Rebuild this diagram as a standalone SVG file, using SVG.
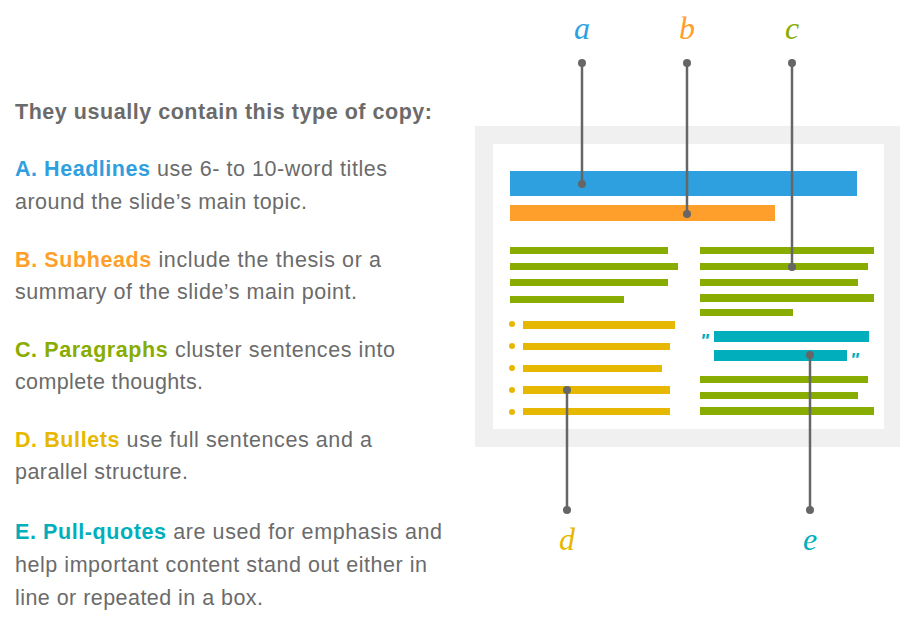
<svg xmlns="http://www.w3.org/2000/svg" width="901" height="627" viewBox="0 0 901 627">
<style>
.t{font-family:"Liberation Sans",Arial,sans-serif;font-size:21.5px;fill:#6b6b6b}
.b{font-weight:bold}
.lbl{font-family:"Liberation Serif","Times New Roman",serif;font-style:italic;font-size:32px;text-anchor:middle}
.con line{stroke:#666;stroke-width:2.5}
.con circle{fill:#666}
.q{font-family:"Liberation Sans",Arial,sans-serif;font-weight:bold;font-style:italic;font-size:19px}
.blue{fill:#2fa0df}.orange{fill:#ff9f2b}.green{fill:#88ac00}.yellow{fill:#e6b800}.teal{fill:#00aebc}
</style>
<rect width="901" height="627" fill="#fff"/>
<g id="text">
<text class="t b" x="15" y="119" textLength="417" lengthAdjust="spacing">They usually contain this type of copy:</text>
<text class="t" x="15" y="176" textLength="372" lengthAdjust="spacing"><tspan class="b blue">A. Headlines</tspan> use 6- to 10-word titles</text>
<text class="t" x="15" y="209" textLength="292" lengthAdjust="spacing">around the slide’s main topic.</text>
<text class="t" x="15" y="267" textLength="366" lengthAdjust="spacing"><tspan class="b orange">B. Subheads</tspan> include the thesis or a</text>
<text class="t" x="15" y="299" textLength="342" lengthAdjust="spacing">summary of the slide’s main point.</text>
<text class="t" x="15" y="357" textLength="380" lengthAdjust="spacing"><tspan class="b green">C. Paragraphs</tspan> cluster sentences into</text>
<text class="t" x="15" y="389" textLength="188" lengthAdjust="spacing">complete thoughts.</text>
<text class="t" x="15" y="447" textLength="357" lengthAdjust="spacing"><tspan class="b yellow">D. Bullets</tspan> use full sentences and a</text>
<text class="t" x="15" y="479" textLength="173" lengthAdjust="spacing">parallel structure.</text>
<text class="t" x="15" y="539" textLength="427" lengthAdjust="spacing"><tspan class="b teal">E. Pull-quotes</tspan> are used for emphasis and</text>
<text class="t" x="15" y="572" textLength="412" lengthAdjust="spacing">help important content stand out either in</text>
<text class="t" x="15" y="605" textLength="248" lengthAdjust="spacing">line or repeated in a box.</text>
</g>
<g id="slide">
<rect x="475" y="126" width="425" height="321" fill="#f0f0f0"/>
<rect x="493" y="144" width="391" height="285" fill="#fff"/>
</g>
<g id="headline"><rect class="blue" x="510" y="171" width="347" height="25"/></g>
<g id="subhead"><rect class="orange" x="510" y="205" width="265" height="16"/></g>
<g id="paragraph-left" class="green">
<rect x="510" y="247" width="158" height="7"/>
<rect x="510" y="263" width="168" height="7"/>
<rect x="510" y="279" width="158" height="7"/>
<rect x="510" y="296" width="114" height="7"/>
</g>
<g id="bullets" class="yellow">
<circle cx="512" cy="324" r="3"/><rect x="523" y="321" width="152" height="8"/>
<circle cx="512" cy="346" r="3"/><rect x="523" y="343" width="147" height="7"/>
<circle cx="512" cy="368" r="3"/><rect x="523" y="365" width="139" height="7"/>
<circle cx="512" cy="390" r="3"/><rect x="523" y="386" width="147" height="8"/>
<circle cx="512" cy="412" r="3"/><rect x="523" y="408" width="147" height="7"/>
</g>
<g id="paragraph-right" class="green">
<rect x="700" y="247" width="174" height="7"/>
<rect x="700" y="263" width="168" height="7"/>
<rect x="700" y="279" width="158" height="7"/>
<rect x="700" y="294" width="174" height="8"/>
<rect x="700" y="309" width="93" height="7"/>
<rect x="700" y="376" width="168" height="7"/>
<rect x="700" y="392" width="158" height="7"/>
<rect x="700" y="407" width="174" height="8"/>
</g>
<g id="pullquote" class="teal">
<rect x="714" y="331" width="155" height="11"/>
<rect x="714" y="350" width="133" height="11"/>
<text class="q" x="700" y="347">"</text>
<text class="q" x="850" y="366">"</text>
</g>
<g id="connectors" class="con">
<line x1="582" y1="63" x2="582" y2="184"/><circle cx="582" cy="63" r="4"/><circle cx="582" cy="184" r="4"/>
<line x1="687" y1="63" x2="687" y2="214"/><circle cx="687" cy="63" r="4"/><circle cx="687" cy="214" r="4"/>
<line x1="792" y1="63" x2="792" y2="267"/><circle cx="792" cy="63" r="4"/><circle cx="792" cy="267" r="4"/>
<line x1="567" y1="390" x2="567" y2="510"/><circle cx="567" cy="390" r="4"/><circle cx="567" cy="510" r="4"/>
<line x1="810" y1="355" x2="810" y2="510"/><circle cx="810" cy="355" r="4"/><circle cx="810" cy="510" r="4"/>
</g>
<g id="label-a"><text class="lbl blue" x="582" y="39">a</text></g>
<g id="label-b"><text class="lbl orange" x="687" y="39">b</text></g>
<g id="label-c"><text class="lbl green" x="792" y="39">c</text></g>
<g id="label-d"><text class="lbl yellow" x="567" y="550">d</text></g>
<g id="label-e"><text class="lbl teal" x="810" y="550">e</text></g>
</svg>
